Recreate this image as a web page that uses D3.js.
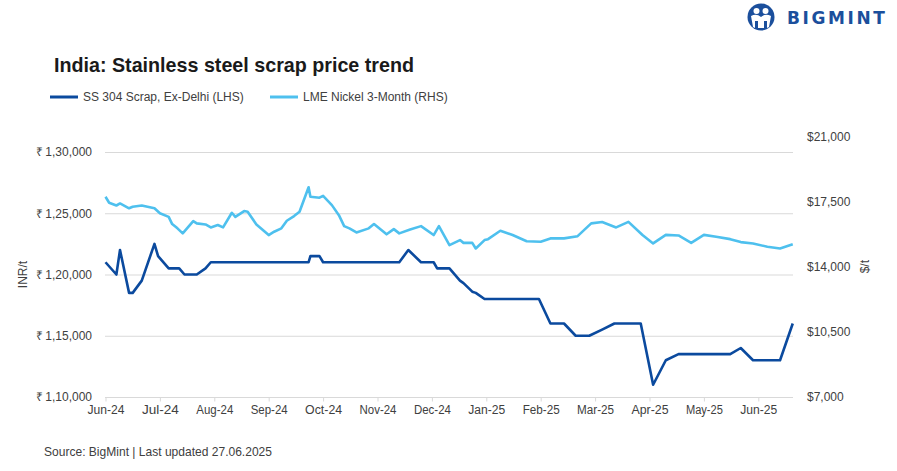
<!DOCTYPE html>
<html>
<head>
<meta charset="utf-8">
<script src="https://cdn.jsdelivr.net/npm/d3@7"></script>
<style>
  html, body { margin: 0; padding: 0; background: #fff; }
  svg { display: block; }
</style>
</head>
<body>
<div id="chart"></div>
<script>
// ---------------- DATA ----------------
const monthLabels = ["Jun-24","Jul-24","Aug-24","Sep-24","Oct-24","Nov-24","Dec-24","Jan-25","Feb-25","Mar-25","Apr-25","May-25","Jun-25"];

const scrapDates = ["2024-06-01","2024-06-07","2024-06-09","2024-06-14","2024-06-16","2024-06-21","2024-06-28","2024-06-30","2024-07-06","2024-07-12","2024-07-15","2024-07-22","2024-07-27","2024-07-30","2024-09-23","2024-09-24","2024-09-29","2024-10-01","2024-11-13","2024-11-18","2024-11-25","2024-12-02","2024-12-04","2024-12-11","2024-12-17","2024-12-19","2024-12-24","2024-12-26","2024-12-31","2025-01-31","2025-02-06","2025-02-13","2025-02-19","2025-02-26","2025-03-05","2025-03-12","2025-03-27","2025-04-03","2025-04-10","2025-04-17","2025-05-16","2025-05-22","2025-05-29","2025-06-13","2025-06-20"];
const scrapValues = [121000,120000,122000,118500,118500,119500,122500,121500,120500,120500,120000,120000,120500,121000,121000,121500,121500,121000,121000,122000,121000,121000,120500,120500,119500,119300,118600,118500,118000,118000,116000,116000,115000,115000,115500,116000,116000,111000,113000,113500,113500,114000,113000,113000,116000];

const nickelDates = ["2024-06-01","2024-06-03","2024-06-07","2024-06-09","2024-06-14","2024-06-16","2024-06-21","2024-06-28","2024-07-01","2024-07-06","2024-07-08","2024-07-11","2024-07-14","2024-07-20","2024-07-22","2024-07-27","2024-07-30","2024-08-03","2024-08-06","2024-08-11","2024-08-13","2024-08-18","2024-08-20","2024-08-25","2024-08-27","2024-09-01","2024-09-04","2024-09-08","2024-09-11","2024-09-15","2024-09-18","2024-09-23","2024-09-24","2024-09-29","2024-10-01","2024-10-06","2024-10-10","2024-10-13","2024-10-16","2024-10-20","2024-10-27","2024-10-30","2024-11-06","2024-11-10","2024-11-13","2024-11-19","2024-11-25","2024-12-02","2024-12-05","2024-12-11","2024-12-17","2024-12-19","2024-12-24","2024-12-26","2024-12-31","2025-01-02","2025-01-09","2025-01-16","2025-01-24","2025-02-01","2025-02-06","2025-02-13","2025-02-20","2025-02-27","2025-03-05","2025-03-13","2025-03-20","2025-03-28","2025-04-03","2025-04-10","2025-04-17","2025-04-24","2025-05-01","2025-05-08","2025-05-16","2025-05-22","2025-05-29","2025-06-06","2025-06-13","2025-06-20"];
const nickelValues = [17770,17450,17300,17410,17150,17230,17300,17150,16880,16690,16300,16070,15800,16460,16340,16280,16120,16250,16120,16910,16690,17000,16960,16280,16120,15710,15890,16070,16480,16730,16960,18280,17770,17720,17820,17320,16780,16190,16070,15850,16070,16300,15750,16030,15800,16010,16190,15710,16190,15170,15440,15290,15290,14990,15440,15490,15940,15710,15380,15350,15530,15530,15650,16340,16410,16120,16420,15710,15260,15720,15690,15290,15720,15620,15490,15330,15260,15080,14990,15220];

const leftTicks = [110000,115000,120000,125000,130000];
const rightTicks = [7000,10500,14000,17500,21000];

const seriesNames = ["SS 304 Scrap, Ex-Delhi (LHS)", "LME Nickel 3-Month (RHS)"];
const colors = ["#0B4A9E", "#4EC0EE"];

// ---------------- HELPERS ----------------
const W = 897, H = 471;
const parse = d3.timeParse("%Y-%m-%d");
function monthPos(d) {
  const y = d.getFullYear(), m = d.getMonth();
  const days = new Date(y, m + 1, 0).getDate();
  return (y - 2024) * 12 + (m - 5) + (d.getDate() - 1) / days;
}
function inr(v) {
  const s = String(v);
  const last3 = s.slice(-3);
  let rest = s.slice(0, -3);
  const parts = [];
  while (rest.length > 2) { parts.unshift(rest.slice(-2)); rest = rest.slice(0, -2); }
  if (rest.length) parts.unshift(rest);
  return "\u20B9\u2009" + (parts.length ? parts.join(",") + "," : "") + last3;
}

const scrap = scrapDates.map((d, i) => ({ x: monthPos(parse(d)), v: scrapValues[i] }));
const nickel = nickelDates.map((d, i) => ({ x: monthPos(parse(d)), v: nickelValues[i] }));

// ---------------- SCALES ----------------
const x = d3.scaleLinear().domain([0, 12]).range([105.5, 758.3]);
const yL = d3.scaleLinear().domain([110000, 130000]).range([397, 152]);
const yR = d3.scaleLinear().domain([7000, 21000]).range([397, 136.7]);
const plotLeft = 105, plotRight = 793;

const svg = d3.select("#chart").append("svg").attr("width", W).attr("height", H);
svg.append("rect").attr("width", W).attr("height", H).attr("fill", "#fff");

const FONT = "'Liberation Sans', Arial, sans-serif";

// ---------------- LOGO ----------------
const logo = svg.append("g").attr("transform", "translate(761,17)");
logo.append("circle").attr("r", 13.5).attr("fill", "#1B4F9C");
logo.append("circle").attr("cx", -4.5).attr("cy", -6).attr("r", 3).attr("fill", "#fff");
logo.append("circle").attr("cx", 4.5).attr("cy", -6).attr("r", 3).attr("fill", "#fff");
logo.append("path").attr("d", "M-10,-1 Q-4.5,-4 0,0 L0,11 L-3,11 L-3,4 L-6,4 L-6,11 L-8,10 Z").attr("fill", "#fff");
logo.append("path").attr("d", "M10,-1 Q4.5,-4 0,0 L0,11 L3,11 L3,4 L6,4 L6,11 L8,10 Z").attr("fill", "#fff");
svg.append("text").attr("x", 787).attr("y", 24)
  .attr("font-family", "'DejaVu Sans', Verdana, sans-serif").attr("font-weight", "bold")
  .attr("font-size", 17).attr("letter-spacing", 2.6).attr("fill", "#1B4F9C").text("BIGMINT");

// ---------------- TITLE ----------------
svg.append("text").attr("x", 54).attr("y", 72)
  .attr("font-family", FONT).attr("font-weight", "bold").attr("font-size", 19.7)
  .attr("fill", "#1a1a1a").text("India: Stainless steel scrap price trend");

// ---------------- LEGEND ----------------
const legendX = [50, 270];
seriesNames.forEach((n, i) => {
  const g = svg.append("g").attr("transform", `translate(${legendX[i]},97)`);
  g.append("line").attr("x1", 0).attr("x2", 28).attr("y1", 0).attr("y2", 0)
    .attr("stroke", colors[i]).attr("stroke-width", 3);
  g.append("text").attr("x", 33).attr("y", 4.3)
    .attr("font-family", FONT).attr("font-size", 12).attr("fill", "#404040").text(n);
});

// ---------------- GRID ----------------
svg.append("g").selectAll("line").data(leftTicks).join("line")
  .attr("x1", plotLeft).attr("x2", plotRight)
  .attr("y1", d => yL(d) + 0.5).attr("y2", d => yL(d) + 0.5)
  .attr("stroke", "#d9d9d9").attr("stroke-width", 1);

// ---------------- AXES ----------------
const axL = svg.append("g").attr("transform", `translate(${plotLeft},0)`)
  .call(d3.axisLeft(yL).tickValues(leftTicks).tickFormat(inr).tickSize(0).tickPadding(13));
axL.select(".domain").remove();
axL.selectAll("text").attr("font-family", FONT).attr("font-size", 12).attr("fill", "#404040");

const axR = svg.append("g").attr("transform", `translate(${plotRight},0)`)
  .call(d3.axisRight(yR).tickValues(rightTicks).tickFormat(d => "$" + d3.format(",")(d)).tickSize(0).tickPadding(14));
axR.select(".domain").remove();
axR.selectAll("text").attr("font-family", FONT).attr("font-size", 12).attr("fill", "#404040");

const axB = svg.append("g").attr("transform", `translate(0,397.5)`)
  .call(d3.axisBottom(x).tickValues(d3.range(13)).tickFormat(i => monthLabels[i]).tickSize(4).tickPadding(4));
axB.select(".domain").remove();
axB.selectAll(".tick line").attr("stroke", "#d9d9d9");
axB.selectAll("text").attr("font-family", FONT).attr("font-size", 12.5).attr("fill", "#404040")
  .attr("textLength", 37).attr("lengthAdjust", "spacingAndGlyphs");

// axis titles
svg.append("text").attr("transform", `translate(27,274.5) rotate(-90)`)
  .attr("text-anchor", "middle").attr("font-family", FONT).attr("font-size", 12)
  .attr("fill", "#404040").text("INR/t");
svg.append("text").attr("transform", `translate(869,266.7) rotate(-90)`)
  .attr("text-anchor", "middle").attr("font-family", FONT).attr("font-size", 12)
  .attr("fill", "#404040").text("$/t");

// ---------------- LINES ----------------
const lineL = d3.line().x(d => x(d.x)).y(d => yL(d.v));
const lineR = d3.line().x(d => x(d.x)).y(d => yR(d.v));
svg.append("path").datum(nickel).attr("d", lineR).attr("fill", "none")
  .attr("stroke", colors[1]).attr("stroke-width", 2.6).attr("stroke-linejoin", "round");
svg.append("path").datum(scrap).attr("d", lineL).attr("fill", "none")
  .attr("stroke", colors[0]).attr("stroke-width", 2.6).attr("stroke-linejoin", "round");

// ---------------- SOURCE ----------------
svg.append("text").attr("x", 44).attr("y", 455.5)
  .attr("font-family", FONT).attr("font-size", 13.5).attr("fill", "#404040")
  .attr("textLength", 228).attr("lengthAdjust", "spacingAndGlyphs")
  .text("Source: BigMint | Last updated 27.06.2025");
</script>
</body>
</html>
